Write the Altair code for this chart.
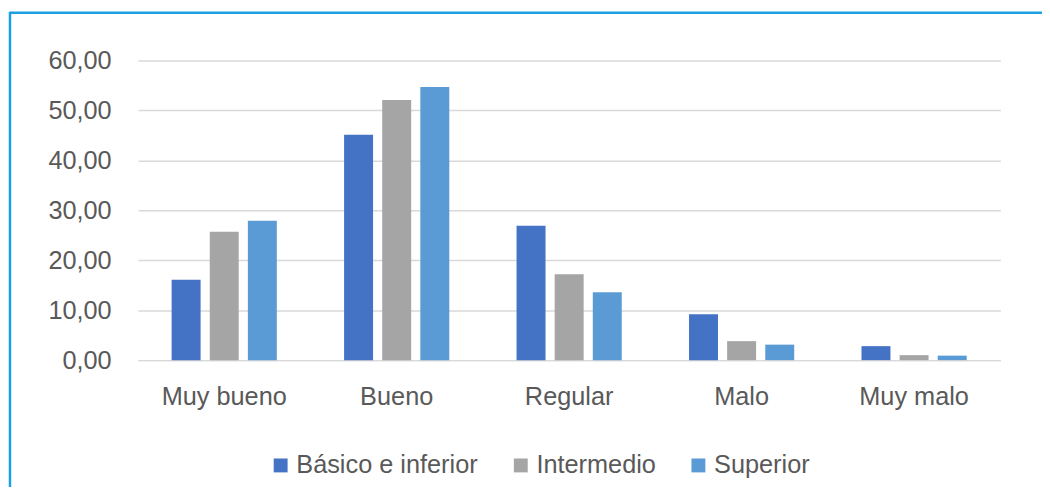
import altair as alt
import pandas as pd

categories = ["Muy bueno", "Bueno", "Regular", "Malo", "Muy malo"]
series = ["Básico e inferior", "Intermedio", "Superior"]
basico = [16.1, 45.1, 26.9, 9.2, 2.8]
intermedio = [25.7, 52.1, 17.2, 3.8, 1.0]
superior = [27.9, 54.7, 13.6, 3.1, 0.9]
colors = ["#4472C4", "#A5A5A5", "#5B9BD5"]
y_ticks = [0, 10, 20, 30, 40, 50, 60]

rows = []
for i, c in enumerate(categories):
    for s, vals in zip(series, [basico, intermedio, superior]):
        rows.append({"categoria": c, "nivel": s, "valor": vals[i]})
df = pd.DataFrame(rows)

FONT = "Liberation Sans"
TXT = "#595959"

bars = alt.Chart(df).mark_bar().encode(
    x=alt.X("categoria:N", sort=categories, title=None,
            scale=alt.Scale(paddingInner=0.39, paddingOuter=0.195),
            axis=alt.Axis(labelAngle=0, labelFont=FONT, labelFontSize=25.5, labelColor=TXT,
                          labelPadding=25, ticks=False, domainColor="#D9D9D9", domainWidth=1.5,
                          grid=False)),
    xOffset=alt.XOffset("nivel:N", sort=series,
                        scale=alt.Scale(paddingInner=0.24, paddingOuter=0)),
    y=alt.Y("valor:Q", title=None,
            scale=alt.Scale(domain=[0, 60], nice=False),
            axis=alt.Axis(values=y_ticks, labelExpr="replace(format(datum.value, '.2f'), '.', ',')",
                          labelFont=FONT, labelFontSize=25.5, labelColor=TXT, labelPadding=27,
                          ticks=False, domain=False, gridColor="#D9D9D9", gridWidth=1.5)),
    color=alt.Color("nivel:N", sort=series,
                    scale=alt.Scale(domain=series, range=colors),
                    legend=alt.Legend(title=None, orient="none", direction="horizontal",
                                      legendX=131, legendY=395, symbolType="square",
                                      symbolSize=196, symbolStrokeWidth=0, labelFont=FONT,
                                      labelFontSize=25.5, labelColor=TXT, labelOffset=3,
                                      labelLimit=400, columnPadding=30, padding=0)),
)

border_top = alt.Chart(pd.DataFrame({"k": [0]})).mark_rule(color="#1BA1E2", strokeWidth=2.5).encode(
    x=alt.value(-129), x2=alt.value(1000), y=alt.value(-48)
)
border_left = alt.Chart(pd.DataFrame({"k": [0]})).mark_rule(color="#1BA1E2", strokeWidth=2.5).encode(
    x=alt.value(-129), y=alt.value(-49), y2=alt.value(500)
)

chart = alt.layer(bars, border_top, border_left).properties(
    width=869, height=302,
    background="white",
    autosize=alt.AutoSizeParams(type="none"),
    padding={"left": 131, "top": 51, "right": 42, "bottom": 126},
).configure_view(stroke=None)

chart.save("out.html", embed_options={"renderer": "svg", "actions": False})
